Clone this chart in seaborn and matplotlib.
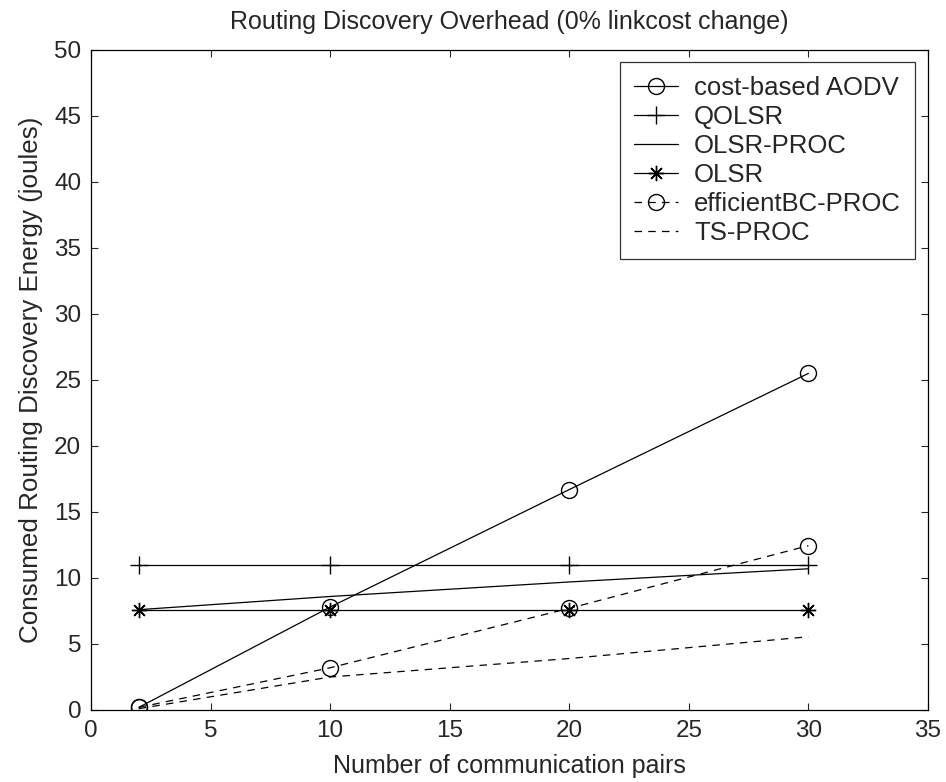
import matplotlib
matplotlib.use("Agg")
import matplotlib.pyplot as plt
import seaborn as sns
import pandas as pd

sns.set_style("ticks")
plt.rcParams['font.family'] = ['Liberation Sans', 'DejaVu Sans']

pairs = [2, 10, 20, 30]
aodv = [0.2, 7.8, 16.7, 25.5]
qolsr = [10.95, 10.95, 10.95, 10.95]
olsr_proc = [7.6, 8.6, 9.7, 10.7]
olsr = [7.6, 7.6, 7.6, 7.6]
efficient_bc = [0.2, 3.2, 7.7, 12.45]
ts_proc = [0.1, 2.5, 3.9, 5.55]

series = [
    ("cost-based AODV", aodv, dict(marker='o', linestyle='-', markersize=11.5, markerfacecolor='none')),
    ("QOLSR", qolsr, dict(marker='+', linestyle='-', markersize=13)),
    ("OLSR-PROC", olsr_proc, dict(marker=None, linestyle='-')),
    ("OLSR", olsr, dict(marker=(8, 2, 0), linestyle='-', markersize=11)),
    ("efficientBC-PROC", efficient_bc, dict(marker='o', linestyle=(0, (6, 5)), markersize=11.5, markerfacecolor='none')),
    ("TS-PROC", ts_proc, dict(marker=None, linestyle=(0, (6, 5)))),
]

fig = plt.figure(figsize=(9.46, 7.82), dpi=100)
ax = fig.add_axes([91/946, 1 - 710/782, 837/946, 660/782])

for name, vals, kw in series:
    df = pd.DataFrame({"x": pairs, "y": vals})
    sns.lineplot(data=df, x="x", y="y", ax=ax, color='black', linewidth=0.9,
                 markeredgecolor='black', markeredgewidth=1.0, label=name, **kw)

ax.set_xlim(0, 35)
ax.set_ylim(0, 50)
ax.set_xticks(range(0, 36, 5))
ax.set_yticks(range(0, 51, 5))
ax.tick_params(direction='in', top=True, right=True, length=5, width=0.8, labelsize=17.5, pad=7)
for s in ax.spines.values():
    s.set_visible(True)
    s.set_linewidth(0.9)
    s.set_color('black')

ax.set_xlabel("Number of communication pairs", fontsize=18, labelpad=9)
ax.set_ylabel("Consumed Routing Discovery Energy (joules)", fontsize=18.7, labelpad=8)
ax.set_title("Routing Discovery Overhead (0% linkcost change)", fontsize=18, pad=15)

leg = ax.legend(loc='upper right', bbox_to_anchor=(0.9845, 0.9818), borderaxespad=0,
                fontsize=18.5, frameon=True, fancybox=False, edgecolor='black',
                handlelength=1.7, handletextpad=0.62, labelspacing=0.19, borderpad=0.55)
leg.get_frame().set_linewidth(0.9)

fig.savefig("out.png", dpi=100)
